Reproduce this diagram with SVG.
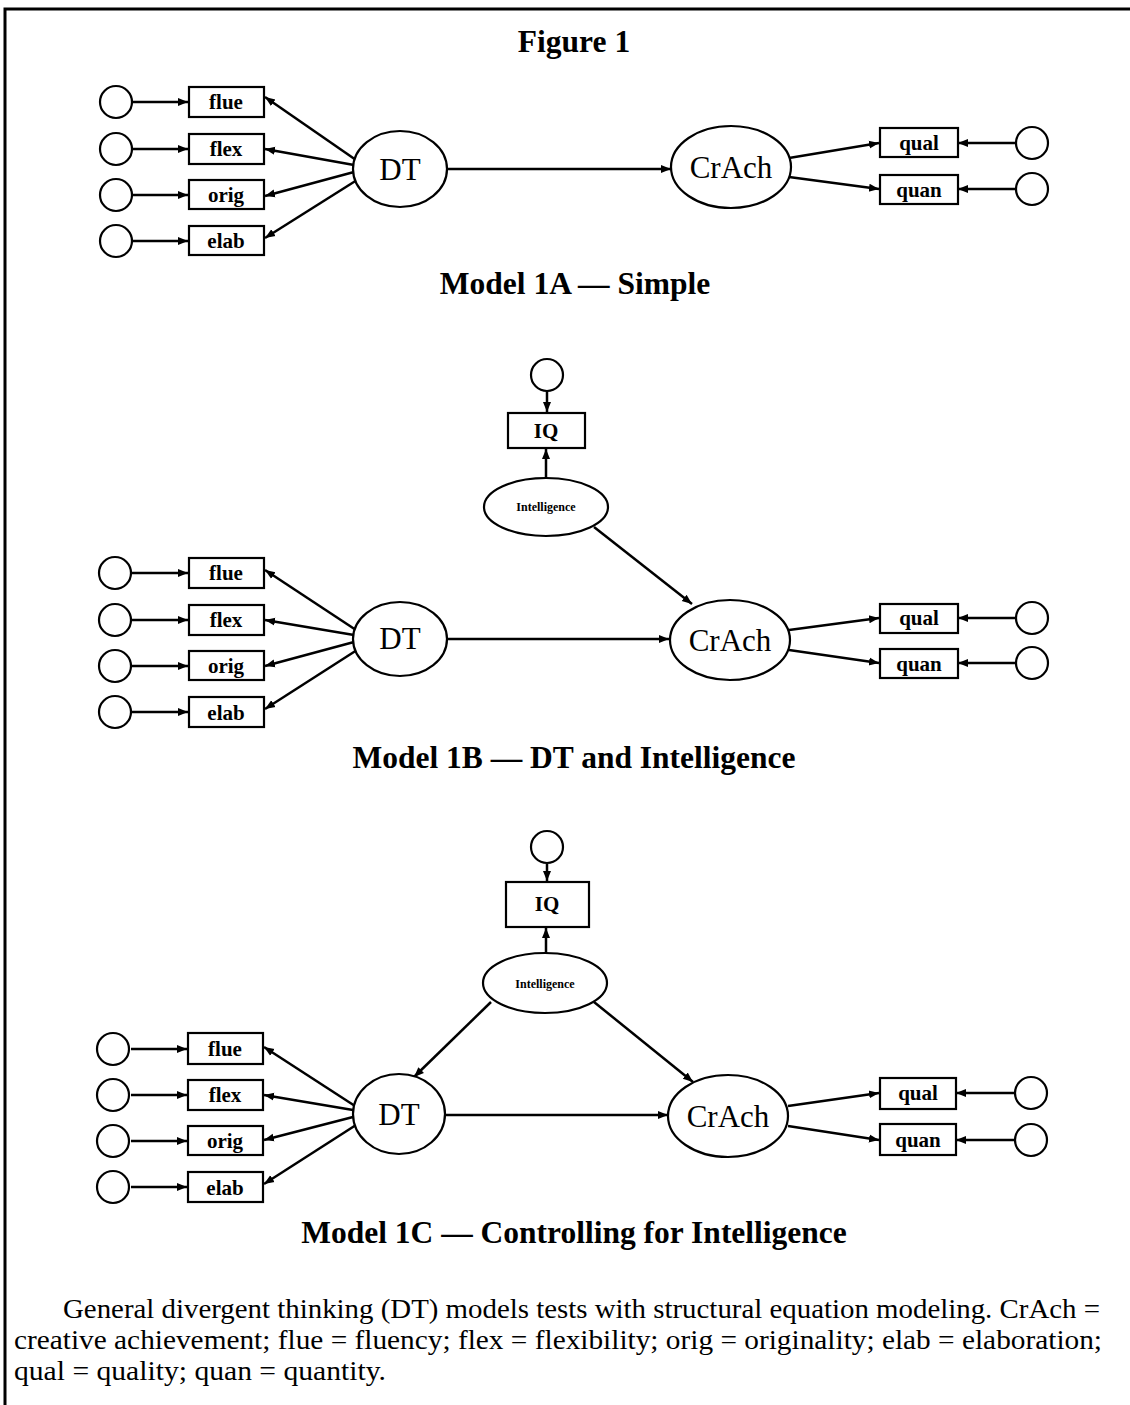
<svg xmlns="http://www.w3.org/2000/svg" width="1130" height="1405" viewBox="0 0 1130 1405">
<style>
.frame{stroke:#000;stroke-width:3;fill:none}
.c{fill:#fff;stroke:#000;stroke-width:2.2}
.b{fill:#fff;stroke:#000;stroke-width:2.2}
.e{fill:#fff;stroke:#000;stroke-width:2.2}
.l{stroke:#000;stroke-width:2.5;fill:none;marker-end:url(#ah)}
.bt{font-family:"Liberation Serif",serif;font-weight:bold;font-size:21px;text-anchor:middle}
.et{font-family:"Liberation Serif",serif;font-size:31px;text-anchor:middle}
.it{font-family:"Liberation Serif",serif;font-weight:bold;font-size:12px;text-anchor:middle}
.h{font-family:"Liberation Serif",serif;font-weight:bold;font-size:31.5px;text-anchor:middle}
.cap{font-family:"Liberation Serif",serif;font-size:27px}
</style>
<defs>
<marker id="ah" markerUnits="userSpaceOnUse" markerWidth="12" markerHeight="10" refX="10" refY="5" orient="auto">
<path d="M0,1 L10,5 L0,9 z" fill="#000"/>
</marker>
</defs>
<rect width="1130" height="1405" fill="#fff"/>
<path class="frame" d="M5,1405 L5,9 L1130,9"/>
<text class="h" x="574" y="52" font-size="36">Figure 1</text>

<!-- Model 1A -->
<g id="connectors-1A">
<line class="l" x1="131" y1="102" x2="188" y2="102"/>
<line class="l" x1="131" y1="149" x2="188" y2="149"/>
<line class="l" x1="131" y1="195" x2="188" y2="195"/>
<line class="l" x1="131" y1="241" x2="188" y2="241"/>
<line class="l" x1="356" y1="160" x2="265" y2="97"/>
<line class="l" x1="354" y1="165" x2="265" y2="149"/>
<line class="l" x1="354" y1="172" x2="265" y2="196"/>
<line class="l" x1="357" y1="180" x2="265" y2="238"/>
<line class="l" x1="447" y1="169" x2="671" y2="169"/>
<line class="l" x1="789" y1="158" x2="879" y2="143"/>
<line class="l" x1="789" y1="177" x2="879" y2="189"/>
<line class="l" x1="1016" y1="143" x2="958" y2="143"/>
<line class="l" x1="1016" y1="189" x2="958" y2="189"/>
</g>
<g id="e1A-flue"><circle class="c" cx="116" cy="102" r="16"/></g>
<g id="e1A-flex"><circle class="c" cx="116" cy="149" r="16"/></g>
<g id="e1A-orig"><circle class="c" cx="116" cy="195" r="16"/></g>
<g id="e1A-elab"><circle class="c" cx="116" cy="241" r="16"/></g>
<g id="n1A-flue"><rect class="b" x="189" y="87" width="75" height="30"/><text class="bt" x="226" y="109">flue</text></g>
<g id="n1A-flex"><rect class="b" x="189" y="134" width="75" height="30"/><text class="bt" x="226" y="156">flex</text></g>
<g id="n1A-orig"><rect class="b" x="189" y="180" width="75" height="29"/><text class="bt" x="226" y="202">orig</text></g>
<g id="n1A-elab"><rect class="b" x="189" y="226" width="75" height="29"/><text class="bt" x="226" y="248">elab</text></g>
<g id="n1A-DT"><ellipse class="e" cx="400" cy="169" rx="47" ry="38"/><text class="et" x="400" y="180">DT</text></g>
<g id="n1A-CrAch"><ellipse class="e" cx="731" cy="167" rx="60" ry="41"/><text class="et" x="731" y="178">CrAch</text></g>
<g id="n1A-qual"><rect class="b" x="880" y="128" width="78" height="29"/><text class="bt" x="919" y="150">qual</text></g>
<g id="n1A-quan"><rect class="b" x="880" y="175" width="78" height="29"/><text class="bt" x="919" y="197">quan</text></g>
<g id="e1A-qual"><circle class="c" cx="1032" cy="143" r="16"/></g>
<g id="e1A-quan"><circle class="c" cx="1032" cy="189" r="16"/></g>
<text class="h" x="575" y="294">Model 1A — Simple</text>

<!-- Model 1B -->
<g id="connectors-1B">
<line class="l" x1="547" y1="391" x2="547" y2="412"/>
<line class="l" x1="546" y1="478" x2="546" y2="449"/>
<line class="l" x1="594" y1="527" x2="692" y2="604"/>
<line class="l" x1="131" y1="573" x2="188" y2="573"/>
<line class="l" x1="131" y1="620" x2="188" y2="620"/>
<line class="l" x1="131" y1="666" x2="188" y2="666"/>
<line class="l" x1="131" y1="712" x2="188" y2="712"/>
<line class="l" x1="356" y1="630" x2="265" y2="570"/>
<line class="l" x1="354" y1="635" x2="265" y2="620"/>
<line class="l" x1="354" y1="642" x2="265" y2="666"/>
<line class="l" x1="357" y1="650" x2="265" y2="709"/>
<line class="l" x1="447" y1="639" x2="669" y2="639"/>
<line class="l" x1="789" y1="630" x2="879" y2="618"/>
<line class="l" x1="789" y1="650" x2="879" y2="663"/>
<line class="l" x1="1016" y1="618" x2="958" y2="618"/>
<line class="l" x1="1016" y1="663" x2="958" y2="663"/>
</g>
<g id="e1B-IQ"><circle class="c" cx="547" cy="375" r="16"/></g>
<g id="n1B-IQ"><rect class="b" x="508" y="413" width="77" height="35"/><text class="bt" x="546" y="438" font-size="23">IQ</text></g>
<g id="n1B-Intelligence"><ellipse class="e" cx="546" cy="507" rx="62" ry="29"/><text class="it" x="546" y="511">Intelligence</text></g>
<g id="e1B-flue"><circle class="c" cx="115" cy="573" r="16"/></g>
<g id="e1B-flex"><circle class="c" cx="115" cy="620" r="16"/></g>
<g id="e1B-orig"><circle class="c" cx="115" cy="666" r="16"/></g>
<g id="e1B-elab"><circle class="c" cx="115" cy="712" r="16"/></g>
<g id="n1B-flue"><rect class="b" x="189" y="558" width="75" height="30"/><text class="bt" x="226" y="580">flue</text></g>
<g id="n1B-flex"><rect class="b" x="189" y="605" width="75" height="30"/><text class="bt" x="226" y="627">flex</text></g>
<g id="n1B-orig"><rect class="b" x="189" y="651" width="75" height="29"/><text class="bt" x="226" y="673">orig</text></g>
<g id="n1B-elab"><rect class="b" x="189" y="697" width="75" height="30"/><text class="bt" x="226" y="720">elab</text></g>
<g id="n1B-DT"><ellipse class="e" cx="400" cy="639" rx="47" ry="37"/><text class="et" x="400" y="649">DT</text></g>
<g id="n1B-CrAch"><ellipse class="e" cx="730" cy="640" rx="60" ry="40"/><text class="et" x="730" y="651">CrAch</text></g>
<g id="n1B-qual"><rect class="b" x="880" y="604" width="78" height="29"/><text class="bt" x="919" y="625">qual</text></g>
<g id="n1B-quan"><rect class="b" x="880" y="649" width="78" height="29"/><text class="bt" x="919" y="671">quan</text></g>
<g id="e1B-qual"><circle class="c" cx="1032" cy="618" r="16"/></g>
<g id="e1B-quan"><circle class="c" cx="1032" cy="663" r="16"/></g>
<text class="h" x="574" y="768">Model 1B — DT and Intelligence</text>

<!-- Model 1C -->
<g id="connectors-1C">
<line class="l" x1="547" y1="864" x2="547" y2="881"/>
<line class="l" x1="546" y1="953" x2="546" y2="928"/>
<line class="l" x1="594" y1="1002" x2="693" y2="1082"/>
<line class="l" x1="491" y1="1002" x2="414" y2="1077"/>
<line class="l" x1="131" y1="1049" x2="187" y2="1049"/>
<line class="l" x1="131" y1="1095" x2="187" y2="1095"/>
<line class="l" x1="131" y1="1141" x2="187" y2="1141"/>
<line class="l" x1="131" y1="1187" x2="187" y2="1187"/>
<line class="l" x1="355" y1="1106" x2="264" y2="1047"/>
<line class="l" x1="353" y1="1110" x2="264" y2="1095"/>
<line class="l" x1="353" y1="1117" x2="264" y2="1140"/>
<line class="l" x1="356" y1="1125" x2="264" y2="1184"/>
<line class="l" x1="445" y1="1115" x2="668" y2="1115"/>
<line class="l" x1="788" y1="1106" x2="879" y2="1093"/>
<line class="l" x1="788" y1="1126" x2="879" y2="1140"/>
<line class="l" x1="1015" y1="1093" x2="956" y2="1093"/>
<line class="l" x1="1015" y1="1140" x2="956" y2="1140"/>
</g>
<g id="e1C-IQ"><circle class="c" cx="547" cy="847" r="16"/></g>
<g id="n1C-IQ"><rect class="b" x="506" y="882" width="83" height="45"/><text class="bt" x="547" y="911" font-size="23">IQ</text></g>
<g id="n1C-Intelligence"><ellipse class="e" cx="545" cy="983" rx="62" ry="30"/><text class="it" x="545" y="988">Intelligence</text></g>
<g id="e1C-flue"><circle class="c" cx="113" cy="1049" r="16"/></g>
<g id="e1C-flex"><circle class="c" cx="113" cy="1095" r="16"/></g>
<g id="e1C-orig"><circle class="c" cx="113" cy="1141" r="16"/></g>
<g id="e1C-elab"><circle class="c" cx="113" cy="1187" r="16"/></g>
<g id="n1C-flue"><rect class="b" x="188" y="1033" width="75" height="31"/><text class="bt" x="225" y="1056">flue</text></g>
<g id="n1C-flex"><rect class="b" x="188" y="1080" width="75" height="30"/><text class="bt" x="225" y="1102">flex</text></g>
<g id="n1C-orig"><rect class="b" x="188" y="1126" width="75" height="29"/><text class="bt" x="225" y="1148">orig</text></g>
<g id="n1C-elab"><rect class="b" x="188" y="1172" width="75" height="30"/><text class="bt" x="225" y="1195">elab</text></g>
<g id="n1C-DT"><ellipse class="e" cx="399" cy="1114" rx="46" ry="40"/><text class="et" x="399" y="1125">DT</text></g>
<g id="n1C-CrAch"><ellipse class="e" cx="728" cy="1116" rx="60" ry="41"/><text class="et" x="728" y="1127">CrAch</text></g>
<g id="n1C-qual"><rect class="b" x="880" y="1078" width="76" height="31"/><text class="bt" x="918" y="1100">qual</text></g>
<g id="n1C-quan"><rect class="b" x="880" y="1124" width="76" height="31"/><text class="bt" x="918" y="1147">quan</text></g>
<g id="e1C-qual"><circle class="c" cx="1031" cy="1093" r="16"/></g>
<g id="e1C-quan"><circle class="c" cx="1031" cy="1140" r="16"/></g>
<text class="h" x="574" y="1243">Model 1C — Controlling for Intelligence</text>

<text class="cap" x="63" y="1318" textLength="1037" lengthAdjust="spacingAndGlyphs">General divergent thinking (DT) models tests with structural equation modeling. CrAch =</text>
<text class="cap" x="14" y="1349" textLength="1088" lengthAdjust="spacingAndGlyphs">creative achievement; flue = fluency; flex = flexibility; orig = originality; elab = elaboration;</text>
<text class="cap" x="14" y="1380" textLength="372" lengthAdjust="spacingAndGlyphs">qual = quality; quan = quantity.</text>
</svg>
